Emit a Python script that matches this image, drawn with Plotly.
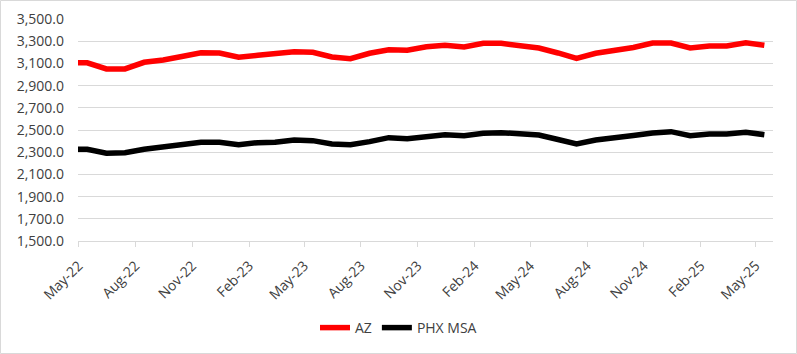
import plotly.graph_objects as go

# Monthly observations (mid-month), Apr-2022 .. May-2025
months = ["2022-04", "2022-05", "2022-06", "2022-07", "2022-08", "2022-09", "2022-10",
          "2022-11", "2022-12", "2023-01", "2023-02", "2023-03", "2023-04", "2023-05",
          "2023-06", "2023-07", "2023-08", "2023-09", "2023-10", "2023-11", "2023-12",
          "2024-01", "2024-02", "2024-03", "2024-04", "2024-05", "2024-06", "2024-07",
          "2024-08", "2024-09", "2024-10", "2024-11", "2024-12", "2025-01", "2025-02",
          "2025-03", "2025-04", "2025-05"]
dates = [m + "-15" for m in months]

az = [3105, 3105, 3050, 3050, 3110, 3130, 3162, 3196, 3194, 3155, 3173, 3185, 3205,
      3200, 3158, 3142, 3191, 3223, 3218, 3250, 3263, 3248, 3281, 3281, 3263, 3239,
      3194, 3146, 3191, 3216, 3243, 3284, 3284, 3239, 3257, 3257, 3286, 3263]

phx = [2326, 2326, 2290, 2295, 2326, 2347, 2370, 2389, 2389, 2368, 2386, 2389, 2410,
       2404, 2374, 2368, 2395, 2431, 2422, 2446, 2458, 2449, 2470, 2476, 2467, 2455,
       2414, 2374, 2410, 2425, 2450, 2473, 2485, 2449, 2464, 2464, 2479, 2458]

tick_dates = ["2022-05-01", "2022-08-01", "2022-11-01", "2023-02-01", "2023-05-01",
              "2023-08-01", "2023-11-01", "2024-02-01", "2024-05-01", "2024-08-01",
              "2024-11-01", "2025-02-01", "2025-05-01"]
tick_labels = ["May-22", "Aug-22", "Nov-22", "Feb-23", "May-23", "Aug-23", "Nov-23",
               "Feb-24", "May-24", "Aug-24", "Nov-24", "Feb-25", "May-25"]

y_ticks = [1500, 1700, 1900, 2100, 2300, 2500, 2700, 2900, 3100, 3300, 3500]

fig = go.Figure()
fig.add_trace(go.Scatter(x=dates, y=az, mode="lines", name="AZ",
                         line=dict(color="#FF0000", width=5.5)))
fig.add_trace(go.Scatter(x=dates, y=phx, mode="lines", name="PHX MSA",
                         line=dict(color="#000000", width=5.5)))

L, R, T, B = 78, 24, 19, 113
W, H = 797, 354
pw, ph = W - L - R, H - T - B
txt = "#404040"

fig.update_layout(
    width=W, height=H,
    margin=dict(l=L, r=R, t=T, b=B, pad=0),
    paper_bgcolor="white", plot_bgcolor="white",
    font=dict(family="Open Sans", size=14, color=txt),
    showlegend=True,
    legend=dict(orientation="h", xref="container", yref="container",
                x=0.5, xanchor="center", y=1 - 328 / H, yanchor="middle",
                font=dict(size=14, color=txt), itemwidth=30,
                bgcolor="rgba(0,0,0,0)"),
    xaxis=dict(type="date", range=["2022-04-30", "2025-05-29"],
               tickmode="array", tickvals=tick_dates, ticktext=tick_labels,
               tickangle=-45, showgrid=False, zeroline=False,
               showline=True, linecolor="#D9D9D9", linewidth=1,
               ticks="outside", ticklen=5, tickcolor="#D9D9D9", tickwidth=1,
               tickfont=dict(size=14, color=txt),
               ticklabelstandoff=5, automargin=False),
    yaxis=dict(range=[1500, 3500], tickmode="array", tickvals=y_ticks,
               tickformat=",.1f", showgrid=True, gridcolor="#D9D9D9", gridwidth=1,
               zeroline=False, showline=False, ticks="",
               tickfont=dict(size=14, color=txt),
               ticklabelstandoff=13, automargin=False),
    shapes=[dict(type="rect", xref="paper", yref="paper",
                 x0=(0.5 - L) / pw, x1=(W - 0.5 - L) / pw,
                 y0=(ph + T - (H - 0.5)) / ph, y1=(ph + T - 0.5) / ph,
                 line=dict(color="#D9D9D9", width=1), layer="below")],
)

fig.write_html("out.html")
